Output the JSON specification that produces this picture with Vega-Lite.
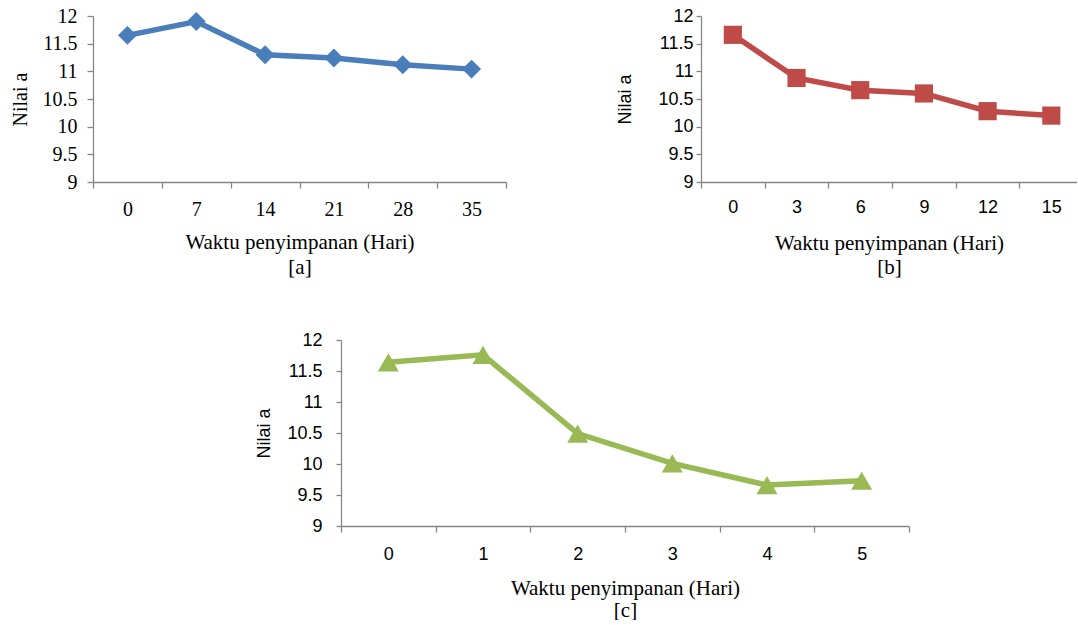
{
  "$schema": "https://vega.github.io/schema/vega-lite/v6.json",
  "usermeta": {"embedOptions": {"actions": false}},
  "padding": {"left": 10, "top": 6, "right": 0, "bottom": 0},
  "background": "white",
  "config": {
    "view": {"stroke": null},
    "axis": {"domainColor": "#868686", "tickColor": "#868686", "grid": false, "labelColor": "#000000", "titleColor": "#000000", "titleFontWeight": "normal", "domainWidth": 1.3, "tickWidth": 1.3}
  },
  "bounds": "flush",
  "spacing": 324,
  "vconcat": [
    {
      "bounds": "flush",
      "spacing": 195,
      "hconcat": [
        {
          "width": 413,
          "height": 166,
          "data": {"values": [
            {"hari": 0, "nilai": 11.65},
            {"hari": 7, "nilai": 11.9},
            {"hari": 14, "nilai": 11.3},
            {"hari": 21, "nilai": 11.24},
            {"hari": 28, "nilai": 11.12},
            {"hari": 35, "nilai": 11.04}
          ]},
          "mark": {"type": "line", "color": "#4A7EBB", "strokeWidth": 5.5, "point": {"shape": "diamond", "size": 360, "filled": true, "color": "#4A7EBB", "opacity": 1}},
          "encoding": {
            "x": {"field": "hari", "type": "ordinal", "bandPosition": 0.5, "scale": {"type": "band", "paddingInner": 0, "paddingOuter": 0},
              "axis": {"title": ["Waktu penyimpanan  (Hari)", "[a]"], "labelAngle": 0, "tickBand": "extent", "tickSize": 6, "labelPadding": 11, "labelFont": "Liberation Serif", "labelFontSize": 20, "titleFont": "Liberation Serif", "titleFontSize": 21, "titleLineHeight": 25, "titlePadding": 12}},
            "y": {"field": "nilai", "type": "quantitative", "scale": {"domain": [9, 12], "nice": false, "zero": false},
              "axis": {"values": [9, 9.5, 10, 10.5, 11, 11.5, 12], "format": "~g", "title": "Nilai a", "tickSize": 6, "labelPadding": 10, "labelFont": "Liberation Serif", "labelFontSize": 20, "titleFont": "Liberation Serif", "titleFontSize": 20, "titlePadding": 12}}
          }
        },
        {
          "width": 376,
          "height": 166,
          "data": {"values": [
            {"hari": 0, "nilai": 11.66},
            {"hari": 3, "nilai": 10.88},
            {"hari": 6, "nilai": 10.66},
            {"hari": 9, "nilai": 10.6},
            {"hari": 12, "nilai": 10.28},
            {"hari": 15, "nilai": 10.2}
          ]},
          "mark": {"type": "line", "color": "#BE4B48", "strokeWidth": 5.5, "point": {"shape": "square", "size": 330, "filled": true, "color": "#BE4B48", "opacity": 1}},
          "encoding": {
            "x": {"field": "hari", "type": "quantitative", "scale": {"domain": [-1.5, 16.21], "nice": false, "zero": false},
              "axis": {"title": ["Waktu penyimpanan  (Hari)", "[b]"], "values": [-1.5, 0, 1.5, 3, 4.5, 6, 7.5, 9, 10.5, 12, 13.5, 15], "format": "d", "labelExpr": "datum.value % 3 === 0 ? datum.label : ''", "tickOpacity": {"condition": {"test": "datum.value % 3 === 0", "value": 0}, "value": 1}, "labelOverlap": false, "labelFlush": false, "labelAngle": 0, "tickSize": 6, "labelPadding": 10, "labelFont": "Liberation Sans", "labelFontSize": 18, "titleFont": "Liberation Serif", "titleFontSize": 21, "titleLineHeight": 24, "titlePadding": 16}},
            "y": {"field": "nilai", "type": "quantitative", "scale": {"domain": [9, 12], "nice": false, "zero": false},
              "axis": {"values": [9, 9.5, 10, 10.5, 11, 11.5, 12], "format": "~g", "title": "Nilai a", "tickSize": 5, "labelPadding": 3, "labelFont": "Liberation Sans", "labelFontSize": 18, "titleFont": "Liberation Sans", "titleFontSize": 18, "titlePadding": 23}}
          }
        }
      ]
    },
    {
      "bounds": "flush",
      "spacing": 10,
      "hconcat": [
        {
          "width": 238,
          "height": 10,
          "data": {"values": []},
          "mark": "point",
          "encoding": {}
        },
        {
          "width": 568,
          "height": 186,
          "data": {"values": [
            {"hari": 0, "nilai": 11.64},
            {"hari": 1, "nilai": 11.76},
            {"hari": 2, "nilai": 10.49},
            {"hari": 3, "nilai": 10.01},
            {"hari": 4, "nilai": 9.66},
            {"hari": 5, "nilai": 9.73}
          ]},
          "mark": {"type": "line", "color": "#98B954", "strokeWidth": 5.5, "point": {"shape": "triangle-up", "size": 440, "filled": true, "color": "#98B954", "opacity": 1}},
          "encoding": {
            "x": {"field": "hari", "type": "ordinal", "bandPosition": 0.5, "scale": {"type": "band", "paddingInner": 0, "paddingOuter": 0},
              "axis": {"title": ["Waktu penyimpanan  (Hari)", "[c]"], "labelAngle": 0, "tickBand": "extent", "tickSize": 6, "labelPadding": 13, "labelFont": "Liberation Sans", "labelFontSize": 18, "titleFont": "Liberation Serif", "titleFontSize": 21, "titleLineHeight": 22, "titlePadding": 14}},
            "y": {"field": "nilai", "type": "quantitative", "scale": {"domain": [9, 12], "nice": false, "zero": false},
              "axis": {"values": [9, 9.5, 10, 10.5, 11, 11.5, 12], "format": "~g", "title": "Nilai a", "tickSize": 5, "labelPadding": 14, "labelFont": "Liberation Sans", "labelFontSize": 18, "titleFont": "Liberation Sans", "titleFontSize": 18, "titlePadding": 13}}
          }
        }
      ]
    }
  ]
}
